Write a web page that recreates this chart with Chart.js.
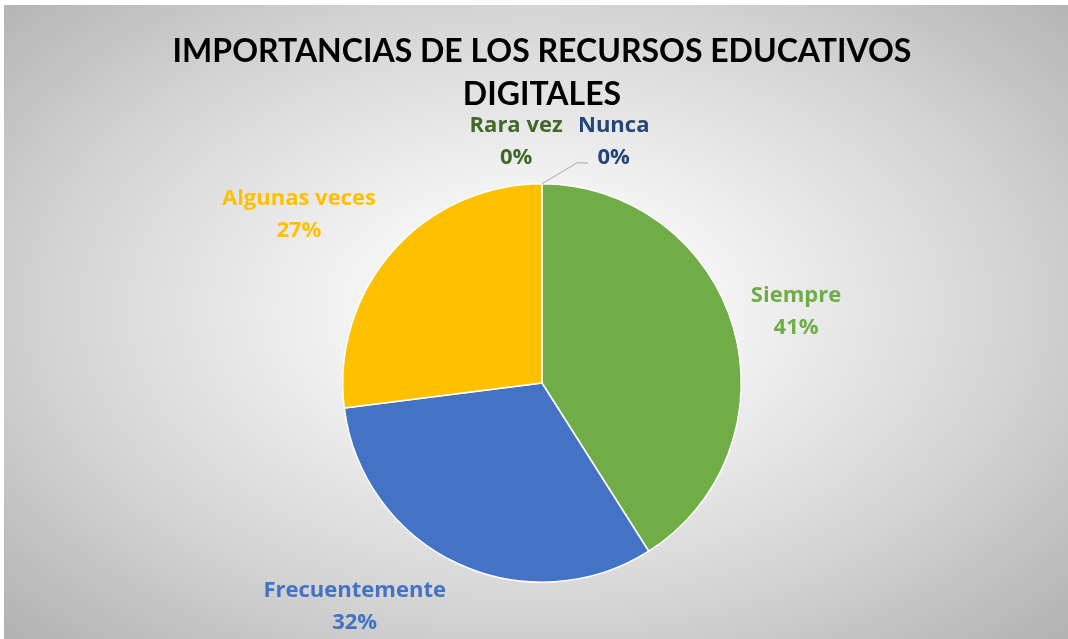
<!DOCTYPE html>
<html>
<head>
<meta charset="utf-8">
<script src="https://cdn.jsdelivr.net/npm/chart.js@4"></script>
<style>
  html, body { margin: 0; padding: 0; background: #fff; }
  #wrap {
    position: absolute; left: 4px; top: 5px; width: 1064px; height: 634px;
    background: radial-gradient(ellipse 75% 80% at 50% 48%, #ffffff 0%, #f2f2f2 25%, #d4d4d4 60%, #aaaaaa 100%);
  }
  #chart { position: absolute; left: 0; top: 0; }
</style>
</head>
<body>
<div id="wrap"></div>
<canvas id="chart" width="1068" height="639"></canvas>
<script>
// Chart data
const titleLines = ['IMPORTANCIAS DE LOS RECURSOS EDUCATIVOS', 'DIGITALES'];
const categories = ['Siempre', 'Frecuentemente', 'Algunas veces', 'Rara vez', 'Nunca'];
const percentages = [41, 32, 27, 0, 0];
const sliceColors = ['#70AD47', '#4472C4', '#FFC000', '#43682B', '#264478'];

// Label block centre, relative to pie centre in units of radius
const labelOffsets = [
  [1.275, -0.36],
  [-0.94, 1.125],
  [-1.22, -0.845],
  [-0.13, -1.21],
  [0.36, -1.21]
];

const TITLE_FONT = 'Lato, "Open Sans", sans-serif';
const LABEL_FONT = '"Open Sans", Lato, sans-serif';

// Draws the title and the outside data labels
const labelPlugin = {
  id: 'outsideLabels',
  afterDatasetsDraw(chart) {
    const ctx = chart.ctx;
    const meta = chart.getDatasetMeta(0);
    const arc0 = meta.data[0];
    const cx = arc0.x, cy = arc0.y, r = arc0.outerRadius;

    ctx.save();
    ctx.textAlign = 'center';
    ctx.textBaseline = 'middle';

    // title
    ctx.fillStyle = '#000';
    ctx.font = 'bold 32px ' + TITLE_FONT;
    ctx.fillText(titleLines[0], cx, 52);
    ctx.fillText(titleLines[1], cx, 95);

    // leader line for the last zero slice
    const last = meta.data[categories.length - 1];
    const a = last.startAngle;
    const sx = cx + Math.cos(a) * r, sy = cy + Math.sin(a) * r;
    const ly = cy + labelOffsets[4][1] * r;
    ctx.strokeStyle = '#a6a6a6';
    ctx.lineWidth = 1;
    ctx.beginPath();
    ctx.moveTo(sx, sy);
    ctx.lineTo(sx + 35, ly + 21);
    ctx.lineTo(sx + 46, ly + 21);
    ctx.stroke();

    ctx.font = 'bold 22px ' + LABEL_FONT;
    categories.forEach((name, i) => {
      const x = cx + labelOffsets[i][0] * r;
      const y = cy + labelOffsets[i][1] * r;
      ctx.fillStyle = sliceColors[i];
      ctx.fillText(name, x, y - 16);
      ctx.fillText(percentages[i] + '%', x, y + 16);
    });
    ctx.restore();
  }
};

new Chart(document.getElementById('chart'), {
  type: 'pie',
  data: {
    labels: categories,
    datasets: [{
      data: percentages,
      backgroundColor: sliceColors,
      borderColor: '#ffffff',
      borderWidth: 1.5
    }]
  },
  options: {
    responsive: false,
    animation: false,
    layout: {
      padding: { left: 342, right: 326, top: 183, bottom: 56 }
    },
    plugins: {
      legend: { display: false },
      title: { display: false },
      tooltip: { enabled: false }
    }
  },
  plugins: [labelPlugin]
});
</script>
</body>
</html>
